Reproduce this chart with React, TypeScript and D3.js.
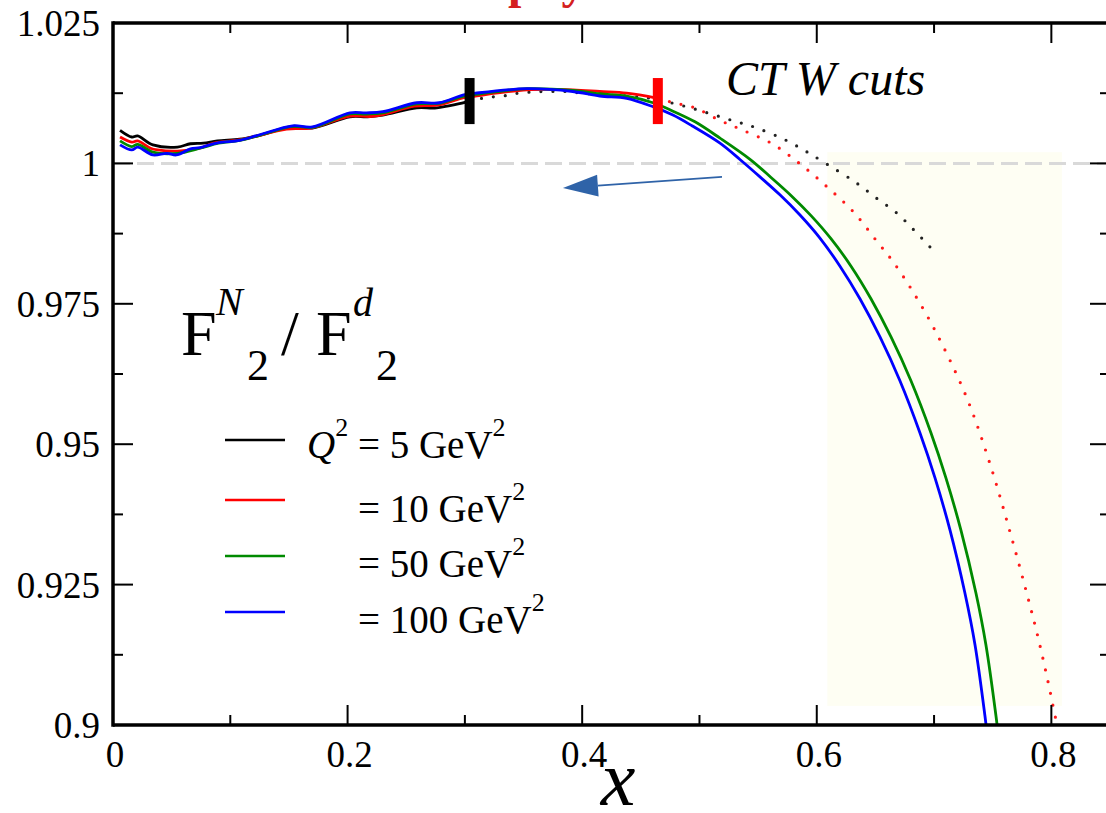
import React from "react";
import * as d3 from "d3";

// ---- data: F2 ratio vs x for several Q^2 values ----
const q5Solid: [number, number][] = [
  [0.006, 1.0059], [0.016, 1.0047], [0.021, 1.0049], [0.034, 1.0033], [0.055, 1.0029],
  [0.066, 1.0035], [0.077, 1.0036], [0.089, 1.004], [0.108, 1.0043], [0.123, 1.0049],
  [0.153, 1.0065], [0.17, 1.0063], [0.202, 1.0083], [0.217, 1.0083], [0.23, 1.0086],
  [0.259, 1.0099], [0.276, 1.0099], [0.302, 1.011], [0.304, 1.0112],
];
const q5Dotted: [number, number][] = [
  [0.304, 1.0112], [0.315, 1.0116], [0.326, 1.0119], [0.336, 1.0121], [0.345, 1.0125],
  [0.356, 1.0127], [0.366, 1.0128], [0.377, 1.0128], [0.387, 1.0128], [0.396, 1.0126],
  [0.407, 1.0124], [0.418, 1.0122], [0.428, 1.0121], [0.438, 1.012], [0.448, 1.0118],
  [0.458, 1.0116], [0.487, 1.0102], [0.527, 1.0077], [0.549, 1.0063], [0.574, 1.0041],
  [0.592, 1.002], [0.61, 0.9997], [0.634, 0.9965], [0.651, 0.9938], [0.668, 0.9912],
  [0.683, 0.9881], [0.698, 0.9848],
];
const q10Solid: [number, number][] = [
  [0.006, 1.0047], [0.016, 1.0038], [0.021, 1.004], [0.032, 1.0027], [0.038, 1.0024],
  [0.055, 1.0022], [0.074, 1.0027], [0.086, 1.0036], [0.111, 1.0043], [0.148, 1.0061],
  [0.169, 1.0063], [0.202, 1.0084], [0.223, 1.0084], [0.257, 1.0102], [0.278, 1.0104],
  [0.299, 1.0117], [0.309, 1.012], [0.353, 1.0131], [0.392, 1.0131], [0.415, 1.0128],
  [0.438, 1.0125], [0.4645, 1.0116],
];
const q10Dotted: [number, number][] = [
  [0.4645, 1.0116], [0.478, 1.0108], [0.496, 1.0099], [0.517, 1.0077], [0.536, 1.006],
  [0.562, 1.0035], [0.587, 0.9997], [0.61, 0.9956], [0.632, 0.9912], [0.651, 0.9862],
  [0.664, 0.9828], [0.681, 0.9775], [0.701, 0.9702], [0.728, 0.9582], [0.748, 0.9463],
  [0.765, 0.9342], [0.779, 0.9235], [0.789, 0.9153], [0.798, 0.9069], [0.804, 0.9009],
  [0.806, 0.8995],
];
const q50Solid: [number, number][] = [
  [0.006, 1.004], [0.016, 1.003], [0.021, 1.0034], [0.034, 1.002], [0.055, 1.0018],
  [0.074, 1.0027], [0.09, 1.0036], [0.108, 1.0041], [0.125, 1.005], [0.153, 1.0066],
  [0.17, 1.0064], [0.202, 1.0088], [0.216, 1.0088], [0.23, 1.009], [0.259, 1.0106],
  [0.278, 1.0107], [0.299, 1.012], [0.309, 1.0123], [0.353, 1.0133], [0.392, 1.013],
  [0.415, 1.0124], [0.438, 1.012], [0.4604, 1.0108], [0.4774, 1.0093], [0.4962, 1.0074],
  [0.5175, 1.0045], [0.5439, 1.0006], [0.561, 0.9975], [0.578, 0.9943], [0.5951, 0.9907],
  [0.6121, 0.9866], [0.6292, 0.9817], [0.6462, 0.9759], [0.6633, 0.9691], [0.6803, 0.9613],
  [0.6974, 0.952], [0.7101, 0.944], [0.7229, 0.9347], [0.7357, 0.9235], [0.7442, 0.9143],
  [0.7528, 0.9016], [0.7545, 0.8986],
];
const q100Solid: [number, number][] = [
  [0.006, 1.0033], [0.016, 1.0024], [0.021, 1.0029], [0.034, 1.0015], [0.046, 1.0018],
  [0.054, 1.0015], [0.066, 1.0026], [0.074, 1.0028], [0.09, 1.0037], [0.108, 1.0041],
  [0.125, 1.0051], [0.153, 1.0067], [0.17, 1.0065], [0.202, 1.009], [0.216, 1.009],
  [0.23, 1.0092], [0.259, 1.0108], [0.278, 1.0108], [0.299, 1.0122], [0.309, 1.0125],
  [0.353, 1.0133], [0.392, 1.0128], [0.415, 1.012], [0.438, 1.0116], [0.4604, 1.0101],
  [0.4774, 1.0086], [0.4936, 1.0067], [0.5175, 1.0036], [0.5345, 1.0007], [0.5516, 0.9976],
  [0.5686, 0.9944], [0.5857, 0.9908], [0.6027, 0.9867], [0.6198, 0.9817], [0.6368, 0.9759],
  [0.6539, 0.9691], [0.6709, 0.9613], [0.688, 0.952], [0.7008, 0.944], [0.7136, 0.9347],
  [0.7263, 0.9235], [0.7349, 0.9143], [0.7434, 0.9016], [0.7451, 0.8986],
];

// W cut positions for Q^2 = 5 and 10 GeV^2
const cutX = [0.304, 0.4645];
const cutColors = ["#000000", "#ff0000"];
const cutRange = [1.007, 1.0152];

// resonance-region band
const bandX = [0.609, 0.809];
const bandY = [0.9034, 1.002];

// arrow (tail -> head)
const arrowTail: [number, number] = [0.5192, 0.9976];
const arrowHead: [number, number] = [0.3836, 0.9956];

const xMajor = [0, 0.2, 0.4, 0.6, 0.8];
const xMajorLabels = ["0", "0.2", "0.4", "0.6", "0.8"];
const xMinor = [0.1, 0.3, 0.5, 0.7];
const yMajor = [0.9, 0.925, 0.95, 0.975, 1.0, 1.025];
const yMajorLabels = ["0.9", "0.925", "0.95", "0.975", "1", "1.025"];
const yMinor = [0.9125, 0.9375, 0.9625, 0.9875, 1.0125];

const legendColors = ["#000000", "#ff0000", "#008a00", "#0000ff"];
const legendValues = ["5", "10", "50", "100"];

const SERIF = "'Liberation Serif', 'Times New Roman', Times, serif";

export default function App() {
  const W = 1106;
  const H = 813;
  const L = 113, R = 1110, T = 23, B = 725;

  const xs = d3.scaleLinear().domain([0, 0.85]).range([L, R]);
  const ys = d3.scaleLinear().domain([0.9, 1.025]).range([B, T]);

  const line = d3
    .line<[number, number]>()
    .x((d) => xs(d[0]))
    .y((d) => ys(d[1]))
    .curve(d3.curveCatmullRom.alpha(0.5));

  const solidW = 2.8;

  const hx = xs(arrowHead[0]);
  const hy = ys(arrowHead[1]);
  const tx = xs(arrowTail[0]);
  const ty = ys(arrowTail[1]);
  const ang = Math.atan2(ty - hy, tx - hx);
  const headLen = 35;
  const headHalf = 11;
  const bx = hx + headLen * Math.cos(ang);
  const by = hy + headLen * Math.sin(ang);
  const px = -Math.sin(ang) * headHalf;
  const py = Math.cos(ang) * headHalf;

  const legendRows = [
    { lineY: 440, baseY: 458 },
    { lineY: 500, baseY: 522 },
    { lineY: 556, baseY: 577 },
    { lineY: 612, baseY: 633 },
  ];

  const serif = { fontFamily: SERIF };

  return (
    <svg
      width={W}
      height={H}
      style={{ position: "absolute", left: 0, top: 0, background: "#fff", ...serif }}
    >
      <defs>
        <clipPath id="plotClip">
          <rect x={L} y={T} width={R - L} height={B - T} />
        </clipPath>
      </defs>
      <rect x={0} y={0} width={W} height={H} fill="#ffffff" />

      {/* heading, cut by the page top */}
      <text x={508} y={-2} fontSize={48} fontWeight="bold" fill="#d42020" style={serif}>
        physics
      </text>

      {/* shaded band */}
      <rect
        x={xs(bandX[0])}
        y={ys(bandY[1])}
        width={xs(bandX[1]) - xs(bandX[0])}
        height={ys(bandY[0]) - ys(bandY[1])}
        fill="#fefef3"
      />

      {/* unity reference */}
      <line
        x1={L}
        x2={R}
        y1={ys(1)}
        y2={ys(1)}
        stroke="#d9d9d9"
        strokeWidth={3}
        strokeDasharray="17 7"
      />

      <g clipPath="url(#plotClip)" fill="none">
        <path d={line(q5Dotted) || ""} stroke="#222" strokeWidth={3.2} strokeDasharray="0 12" strokeLinecap="round" />
        <path d={line(q10Dotted) || ""} stroke="#ff1a1a" strokeWidth={3.2} strokeDasharray="0 12" strokeLinecap="round" />
        <path d={line(q5Solid) || ""} stroke="#000" strokeWidth={solidW} />
        <path d={line(q10Solid) || ""} stroke="#ff0000" strokeWidth={solidW} />
        <path d={line(q50Solid) || ""} stroke="#008a00" strokeWidth={solidW} />
        <path d={line(q100Solid) || ""} stroke="#0000ff" strokeWidth={solidW} />
      </g>

      {/* cut markers */}
      {cutX.map((c, i) => (
        <rect
          key={i}
          x={xs(c) - 5}
          y={ys(cutRange[1])}
          width={10}
          height={ys(cutRange[0]) - ys(cutRange[1])}
          fill={cutColors[i]}
        />
      ))}

      {/* arrow */}
      <line x1={tx} y1={ty} x2={bx} y2={by} stroke="#2f63a8" strokeWidth={1.6} />
      <polygon
        points={`${hx},${hy} ${bx + px},${by + py} ${bx - px},${by - py}`}
        fill="#2f63a8"
      />

      {/* frame */}
      <g stroke="#000" strokeWidth={3.5} fill="none">
        <line x1={L} x2={W + 10} y1={T} y2={T} />
        <line x1={L} x2={W + 10} y1={B} y2={B} />
        <line x1={L} x2={L} y1={T - 1.75} y2={B + 1.75} />
        <line x1={R} x2={R} y1={T} y2={B} />
      </g>

      {/* ticks */}
      <g stroke="#000" strokeWidth={2}>
        {xMajor.map((v) => (
          <g key={`xM${v}`}>
            <line x1={xs(v)} x2={xs(v)} y1={B} y2={B - 20} />
            <line x1={xs(v)} x2={xs(v)} y1={T} y2={T + 20} />
          </g>
        ))}
        {xMinor.map((v) => (
          <g key={`xm${v}`}>
            <line x1={xs(v)} x2={xs(v)} y1={B} y2={B - 10} />
            <line x1={xs(v)} x2={xs(v)} y1={T} y2={T + 10} />
          </g>
        ))}
        {yMajor.map((v) => (
          <g key={`yM${v}`}>
            <line x1={L} x2={L + 20} y1={ys(v)} y2={ys(v)} />
            <line x1={R} x2={R - 20} y1={ys(v)} y2={ys(v)} />
          </g>
        ))}
        {yMinor.map((v) => (
          <g key={`ym${v}`}>
            <line x1={L} x2={L + 10} y1={ys(v)} y2={ys(v)} />
            <line x1={R} x2={R - 10} y1={ys(v)} y2={ys(v)} />
          </g>
        ))}
      </g>

      {/* tick labels */}
      <g fontSize={37} fill="#000" style={serif}>
        {yMajor.map((v, i) => (
          <text key={`yl${v}`} x={100} y={ys(v) + 13} textAnchor="end" style={serif}>
            {yMajorLabels[i]}
          </text>
        ))}
        {xMajor.map((v, i) => (
          <text key={`xl${v}`} x={xs(v) + 2} y={767} textAnchor="middle" style={serif}>
            {xMajorLabels[i]}
          </text>
        ))}
      </g>

      {/* axis title */}
      <text x={618} y={805} fontSize={78} fontStyle="italic" textAnchor="middle" style={serif}>
        x
      </text>

      {/* ratio label */}
      <g fill="#000" style={serif}>
        <text x={181} y={355} fontSize={64}>F</text>
        <text x={216} y={315} fontSize={40} fontStyle="italic">N</text>
        <text x={247} y={380} fontSize={44}>2</text>
        <text x={281} y={355} fontSize={64}>/</text>
        <text x={316} y={355} fontSize={64}>F</text>
        <text x={353} y={316} fontSize={40} fontStyle="italic">d</text>
        <text x={376} y={380} fontSize={44}>2</text>
      </g>

      <text x={726} y={95} fontSize={48} fontStyle="italic" style={serif}>
        CT W cuts
      </text>

      {/* legend */}
      {legendRows.map((r, i) => (
        <g key={`lg${i}`} style={serif}>
          <line x1={225} x2={285} y1={r.lineY} y2={r.lineY} stroke={legendColors[i]} strokeWidth={2.4} />
          {i === 0 ? (
            <text x={307} y={r.baseY} fontSize={39}>
              <tspan fontStyle="italic">Q</tspan>
              <tspan dy={-22} fontSize={26}>2</tspan>
              <tspan dy={22}>{` = ${legendValues[i]} GeV`}</tspan>
              <tspan dy={-22} fontSize={26}>2</tspan>
            </text>
          ) : (
            <text x={358} y={r.baseY} fontSize={39}>
              <tspan>{`= ${legendValues[i]} GeV`}</tspan>
              <tspan dy={-22} fontSize={26}>2</tspan>
            </text>
          )}
        </g>
      ))}
    </svg>
  );
}
